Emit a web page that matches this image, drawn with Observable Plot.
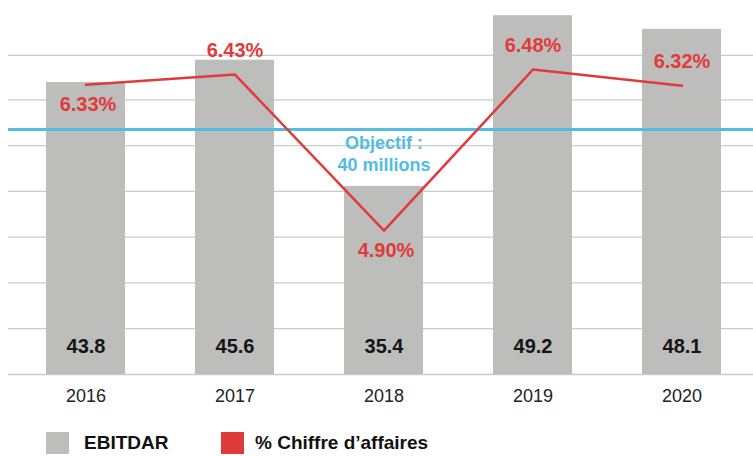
<!DOCTYPE html>
<html>
<head>
<meta charset="utf-8">
<script src="https://cdn.jsdelivr.net/npm/d3@7"></script>
<script src="https://cdn.jsdelivr.net/npm/@observablehq/plot@0.6"></script>
<style>
  html, body { margin: 0; padding: 0; background: #fff; }
  body { font-family: "Liberation Sans", Arial, sans-serif; width: 753px; height: 456px; overflow: hidden; }
  #chart svg { display: block; }
  .legend { position: relative; width: 753px; height: 46px; }
  .legend .sw { position: absolute; top: 22px; width: 23px; height: 22px; }
  .legend .lb { position: absolute; top: 21px; font-size: 19px; font-weight: bold; color: #111; line-height: 24px; white-space: nowrap; }
</style>
</head>
<body>
<div id="chart"></div>
<div class="legend" id="legend"></div>
<script>
// ---- data ----
const years = ["2016", "2017", "2018", "2019", "2020"];
const ebitdar = [43.8, 45.6, 35.4, 49.2, 48.1];
const pctCA = [6.33, 6.43, 4.90, 6.48, 6.32];
const pctLabels = ["6.33%", "6.43%", "4.90%", "6.48%", "6.32%"];
const pctLabelSide = ["below", "above", "below", "above", "above"];
const objectif = 40;
const objectifLabel = "Objectif :\n40 millions";
const gridValues = [20.2, 23.9, 27.6, 31.3, 35.0, 38.7, 42.4, 46.0];
const yDomain = [20.2, 49.7];
const pctAxisDomain = [4, 7];          // secondary axis (%), mapped onto bar units
const pctAxisInBarUnits = [24.4, 49.14];
const legendLabels = ["EBITDAR", "% Chiffre d’affaires"];
const colors = { bar: "#bdbdbb", line: "#e03b3b", obj: "#52bde3", grid: "#cbcbcb", text: "#151515" };

// ---- build table ----
const pctToBar = d3.scaleLinear().domain(pctAxisDomain).range(pctAxisInBarUnits);
const data = years.map((y, i) => ({
  year: y, v: ebitdar[i], p: pctCA[i], pv: pctToBar(pctCA[i]),
  plabel: pctLabels[i], side: pctLabelSide[i], vlabel: ebitdar[i].toFixed(1)
}));
const base = yDomain[0];
const font = "Liberation Sans, Arial, sans-serif";

const chart = Plot.plot({
  width: 753,
  height: 410,
  marginLeft: 8,
  marginRight: 0,
  marginTop: 9,
  marginBottom: 36,
  style: { fontFamily: font, background: "#fff" },
  x: { domain: years, range: [11, 756], paddingInner: 0.47, paddingOuter: 0.235, axis: null },
  y: { domain: yDomain, axis: null },
  marks: [
    Plot.ruleY(gridValues, { stroke: colors.grid, strokeWidth: 1.3 }),
    Plot.barY(data, { x: "year", y1: () => base, y2: "v", fill: colors.bar }),
    Plot.ruleY([objectif], { stroke: colors.obj, strokeWidth: 3 }),
    Plot.text([objectifLabel], { x: () => years[2], y: () => objectif, text: d => d, lineAnchor: "top", dy: 3, lineHeight: 1.26, fontSize: 18, fontWeight: "bold", fill: colors.obj }),
    Plot.line(data, { x: "year", y: "pv", stroke: colors.line, strokeWidth: 2.5 }),
    Plot.text(data.filter(d => d.side === "above"), { x: "year", y: "pv", text: "plabel", dy: -24, fontSize: 20, fontWeight: "bold", fill: colors.line }),
    Plot.text(data.filter(d => d.side === "below"), { x: "year", y: "pv", text: "plabel", dy: 20, dx: 2, fontSize: 20, fontWeight: "bold", fill: colors.line }),
    Plot.text(data, { x: "year", y: () => base, text: "vlabel", dy: -28, fontSize: 20, fontWeight: "bold", fill: colors.text }),
    Plot.text(data, { x: "year", y: () => base, text: "year", dy: 22, fontSize: 18, fill: "#222" })
  ]
});
document.getElementById("chart").appendChild(chart);

// ---- legend ----
const legend = document.getElementById("legend");
const legendColors = [colors.bar, colors.line];
const swLeft = [46, 221];
const lbLeft = [84, 255];
legendLabels.forEach((lab, i) => {
  const sw = document.createElement("div");
  sw.className = "sw"; sw.style.left = swLeft[i] + "px"; sw.style.background = legendColors[i];
  const lb = document.createElement("div");
  lb.className = "lb"; lb.style.left = lbLeft[i] + "px"; lb.textContent = lab;
  legend.appendChild(sw); legend.appendChild(lb);
});
</script>
</body>
</html>
